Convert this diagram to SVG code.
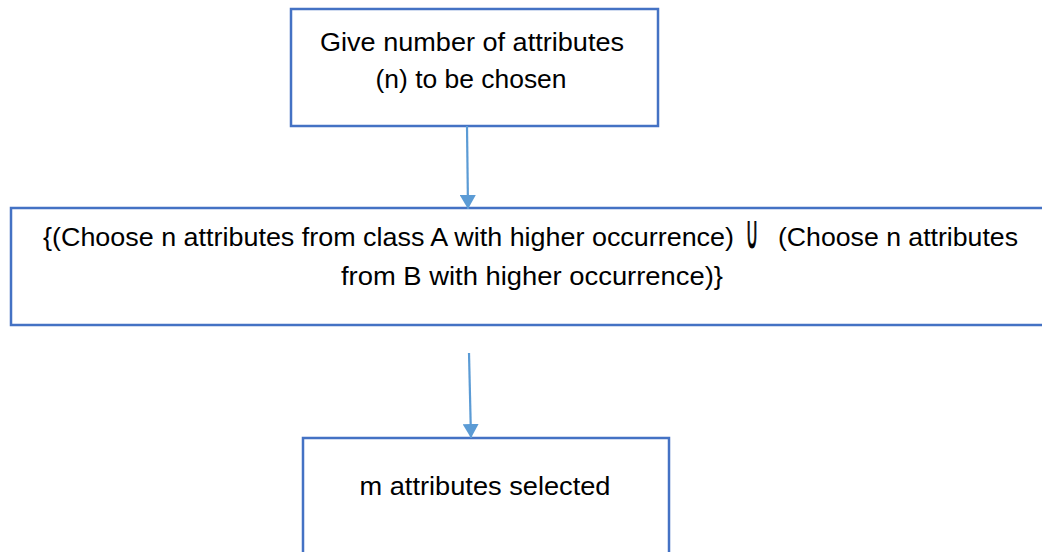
<svg xmlns="http://www.w3.org/2000/svg" width="1042" height="552" viewBox="0 0 1042 552">
<style>
.box{fill:#fff;stroke:#4472C4;stroke-width:2.5}
.t{font-family:"Liberation Sans",Arial,sans-serif;font-size:26px;fill:#000;text-anchor:middle}
.s{text-anchor:start}
.u{font-family:"DejaVu Sans",sans-serif;font-size:26px;fill:#000;stroke:#000;stroke-width:0.7;text-anchor:middle}
.conn{stroke:#5B9BD5;stroke-width:2.2;fill:none}
</style>
<defs>
<marker id="ah" viewBox="0 0 14 16" refX="14" refY="8" markerWidth="14" markerHeight="16" markerUnits="userSpaceOnUse" orient="auto">
<path d="M0,0 L14,8 L0,16 z" fill="#5B9BD5"/>
</marker>
</defs>
<rect width="1042" height="552" fill="#fff"/>
<g id="node1">
<rect class="box" x="291" y="9" width="367" height="117"/>
<text class="t" x="472" y="51" textLength="304" lengthAdjust="spacingAndGlyphs">Give number of attributes</text>
<text class="t" x="471" y="88" textLength="191" lengthAdjust="spacingAndGlyphs">(n) to be chosen</text>
</g>
<g id="node2">
<rect class="box" x="11" y="208" width="1040" height="117"/>
<text class="t s" x="43" y="246" textLength="691" lengthAdjust="spacingAndGlyphs">{(Choose n attributes from class A with higher occurrence)</text>
<text class="u" x="0" y="0" transform="translate(752 248) scale(0.65 1.75)">∪</text>
<text class="t s" x="778" y="246" textLength="240" lengthAdjust="spacingAndGlyphs">(Choose n attributes</text>
<text class="t" x="532" y="285" textLength="382" lengthAdjust="spacingAndGlyphs">from B with higher occurrence)}</text>
</g>
<g id="node3">
<rect class="box" x="303" y="438" width="366" height="130"/>
<text class="t" x="485" y="495" textLength="251" lengthAdjust="spacingAndGlyphs">m attributes selected</text>
</g>
<g id="connectors">
<line class="conn" x1="467" y1="126" x2="468" y2="209" marker-end="url(#ah)"/>
<line class="conn" x1="469" y1="353" x2="471" y2="438" marker-end="url(#ah)"/>
</g>
</svg>
